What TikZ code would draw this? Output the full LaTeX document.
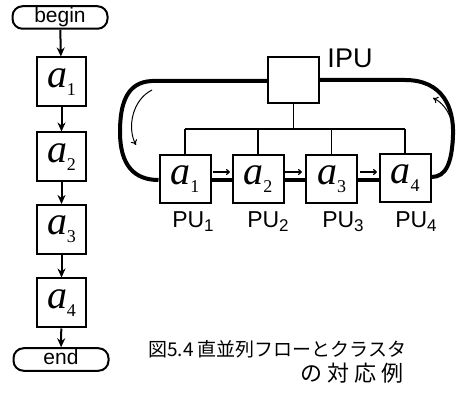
\documentclass[tikz,border=0pt]{standalone}
\usepackage{fontspec}
\setmainfont{Liberation Sans}
\newfontfamily\seriffont{Liberation Serif}
\newfontfamily\cjk{Noto Sans CJK JP}
\usetikzlibrary{arrows.meta}
\newcommand{\av}[1]{{\seriffont\itshape a}\raisebox{-0.2em}{\fontsize{18}{18}\selectfont\seriffont #1}}
\newcommand{\pu}[1]{PU\raisebox{-4pt}{\fontsize{17}{17}\selectfont #1}}
\begin{document}
\begin{tikzpicture}[x=1pt,y=-1pt,
  blk/.style={draw, line width=2pt, minimum width=49pt, minimum height=49pt, inner sep=0pt, font=\fontsize{40}{40}\selectfont},
  pubox/.style={draw, line width=2pt, minimum width=51pt, minimum height=48pt, inner sep=0pt, font=\fontsize{40}{40}\selectfont},
  pill/.style={draw, line width=2pt, rounded corners=10pt, minimum width=95pt, minimum height=22pt, inner xsep=0pt, inner ysep=1.5pt, text height=15pt, text depth=4.5pt, font=\fontsize{21}{21}\selectfont},
  flow/.style={line width=2pt, -{Stealth[length=9pt,width=8pt]}},
  loopline/.style={line width=4pt},
  busline/.style={line width=1.6pt},
  small/.style={line width=1.2pt, -{To[length=4pt,width=6pt]}},
  curvy/.style={line width=1pt, -{To[length=5pt,width=7pt]}},
  lbl/.style={font=\fontsize{23}{23}\selectfont, inner sep=0pt},
  captxt/.style={font=\cjk\fontsize{19}{20}\selectfont, inner sep=0pt}
]
\useasboundingbox (0,0) rectangle (467,396);
% left column
\node[pill] (begin) at (60,17.5) {begin};
\node[blk] (a1) at (61.5,82) {\av1};
\node[blk] (a2) at (61.5,157) {\av2};
\node[blk] (a3) at (61.5,229.5) {\av3};
\node[blk] (a4) at (61.5,303) {\av4};
\node[pill] (end) at (61,359.5) {end};
\draw[flow] (begin) -- (a1);
\draw[flow] (a1) -- (a2);
\draw[flow] (a2) -- (a3);
\draw[flow] (a3) -- (a4);
\draw[flow] (a4) -- (end);
% right side
\node[draw, line width=2pt, minimum width=51pt, minimum height=46pt, inner sep=0pt] (ipu) at (293.5,80) {};
\node[lbl, font=\fontsize{27}{27}\selectfont] (ipul) at (350,58) {IPU};
\node[pubox] (p1) at (185,179) {\av1};
\node[pubox] (p2) at (258,179) {\av2};
\node[pubox] (p3) at (331.5,179) {\av3};
\node[pubox] (p4) at (405,178) {\av4};
\node[lbl] (l1) at (193,222) {\pu1};
\node[lbl] (l2) at (268,222) {\pu2};
\node[lbl] (l3) at (343,222) {\pu3};
\node[lbl] (l4) at (416,222) {\pu4};
% bus
\coordinate (bt) at (293.5,129);
\coordinate (b1) at (185,129);
\coordinate (b2) at (258,129);
\coordinate (b3) at (331.5,129);
\coordinate (b4) at (405,129);
\draw[busline] (ipu.south) -- (bt);
\draw[busline] (b1) -- (b4);
\draw[busline] (b1) -- (p1.north);
\draw[busline] (b2) -- (p2.north);
\draw[busline] (b3) -- (p3.north);
\draw[busline] (b4) -- (p4.north);
% thick links between PUs
\draw[loopline] (p1.east |- 0,180) -- (p2.west |- 0,180);
\draw[loopline] (p2.east |- 0,180) -- (p3.west |- 0,180);
\draw[loopline] (p3.east |- 0,180) -- (p4.west |- 0,180);
% small arrows
\draw[small] (213,172) -- (230,172);
\draw[small] (285,172) -- (302,172);
\draw[small] (360,172) -- (377,172);
% loop
\draw[loopline] (ipu.west |- 0,81) -- (152,81) .. controls (126,82) and (120,105) .. (120,132)
  .. controls (120,165) and (134,180) .. (p1.west |- 0,180);
\draw[loopline] (ipu.east |- 0,80) -- (405,80) .. controls (443,80) and (454,108) .. (453,135)
  .. controls (452,163) and (446,177) .. (p4.east |- 0,177);
% curved arrows
\draw[curvy] (152,90) .. controls (132,100) and (127,128) .. (136,145);
\draw[curvy] (452,153) .. controls (458,130) and (450,106) .. (433,98);
% caption
\node[captxt, anchor=west] (cap1) at (148,349) {図5.4 直並列フローとクラスタ};
\node[captxt, anchor=east, font=\cjk\fontsize{22}{22}\selectfont] (cap2) at (404,373) {の\hspace{5pt}対\hspace{5pt}応\hspace{5pt}例};
\end{tikzpicture}
\end{document}
